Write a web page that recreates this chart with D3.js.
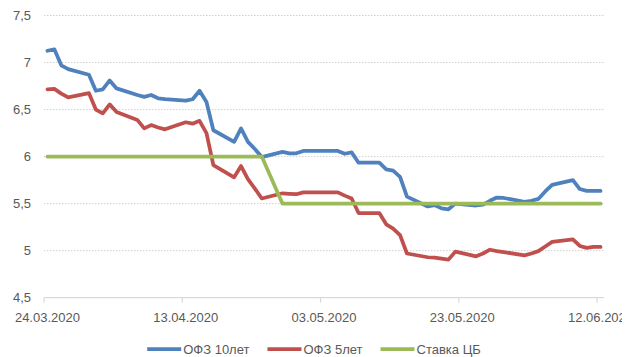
<!DOCTYPE html>
<html>
<head>
<meta charset="utf-8">
<script src="https://cdn.jsdelivr.net/npm/d3@7"></script>
<style>
  html, body { margin: 0; padding: 0; background: #fff; }
  svg { display: block; }
  text { font-family: "Liberation Sans", Arial, sans-serif; fill: #595959; }
</style>
</head>
<body>
<svg id="chart" width="633" height="357"></svg>
<script>
// ---- data ----
const dates = [
  "24.03.2020","25.03.2020","26.03.2020","27.03.2020","30.03.2020","31.03.2020",
  "01.04.2020","02.04.2020","03.04.2020","06.04.2020","07.04.2020","08.04.2020","09.04.2020","10.04.2020",
  "13.04.2020","14.04.2020","15.04.2020","16.04.2020","17.04.2020","20.04.2020","21.04.2020","22.04.2020",
  "23.04.2020","24.04.2020","27.04.2020","28.04.2020","29.04.2020","30.04.2020",
  "04.05.2020","05.05.2020","06.05.2020","07.05.2020","08.05.2020","11.05.2020","12.05.2020","13.05.2020",
  "14.05.2020","15.05.2020","18.05.2020","19.05.2020","20.05.2020","21.05.2020","22.05.2020","25.05.2020",
  "26.05.2020","27.05.2020","28.05.2020","29.05.2020",
  "01.06.2020","02.06.2020","03.06.2020","04.06.2020","05.06.2020","08.06.2020","09.06.2020","10.06.2020",
  "11.06.2020","12.06.2020"
];
const ofz10 = [
  7.125, 7.14, 6.97, 6.93, 6.87, 6.70,
  6.715, 6.81, 6.725, 6.655, 6.635, 6.655, 6.62, 6.61,
  6.595, 6.61, 6.70, 6.58, 6.28, 6.157, 6.30, 6.157,
  6.08, 5.995, 6.05, 6.035, 6.035, 6.06,
  6.06, 6.06, 6.03, 6.045, 5.935, 5.935, 5.864, 5.85,
  5.785, 5.575, 5.47, 5.485, 5.45, 5.44, 5.50, 5.48,
  5.49, 5.53, 5.565, 5.56,
  5.52, 5.53, 5.55, 5.63, 5.70, 5.75, 5.655, 5.635,
  5.635, 5.635
];
const ofz5 = [
  6.715, 6.72, 6.67, 6.63, 6.675, 6.50,
  6.46, 6.555, 6.475, 6.39, 6.30, 6.335, 6.31, 6.29,
  6.365, 6.35, 6.38, 6.25, 5.91, 5.78, 5.90, 5.76,
  5.66, 5.555, 5.61, 5.605, 5.60, 5.62,
  5.62, 5.62, 5.585, 5.555, 5.40, 5.40, 5.28, 5.235,
  5.165, 4.97, 4.93, 4.925, 4.915, 4.905, 4.99, 4.94,
  4.97, 5.01, 4.995, 4.985,
  4.95, 4.97, 4.995, 5.045, 5.094, 5.12, 5.05, 5.03,
  5.04, 5.04
];
const cbRate = [
  6, 6, 6, 6, 6, 6,
  6, 6, 6, 6, 6, 6, 6, 6,
  6, 6, 6, 6, 6, 6, 6, 6,
  6, 6, 5.5, 5.5, 5.5, 5.5,
  5.5, 5.5, 5.5, 5.5, 5.5, 5.5, 5.5, 5.5,
  5.5, 5.5, 5.5, 5.5, 5.5, 5.5, 5.5, 5.5,
  5.5, 5.5, 5.5, 5.5,
  5.5, 5.5, 5.5, 5.5, 5.5, 5.5, 5.5, 5.5,
  5.5, 5.5
];
const seriesNames = ["ОФЗ 10лет", "ОФЗ 5лет", "Ставка ЦБ"];
const seriesColors = ["#4F81BD", "#C0504D", "#9BBB59"];
const xTickLabels = ["24.03.2020", "13.04.2020", "03.05.2020", "23.05.2020", "12.06.2020"];
const yTicks = [4.5, 5, 5.5, 6, 6.5, 7, 7.5];

// ---- helpers ----
const parse = d3.utcParse("%d.%m.%Y");
const fmtY = v => String(v).replace(".", ",");
const HALF_DAY = 12 * 3600 * 1000;

const svg = d3.select("#chart");
const first = parse(dates[0]), last = parse(dates[dates.length - 1]);

// the original chart object is cut off at the right edge
svg.append("defs").append("clipPath").attr("id", "chartClip")
  .append("rect").attr("x", 0).attr("y", 0).attr("width", 622).attr("height", 357);
const root = svg.append("g").attr("clip-path", "url(#chartClip)");

const x = d3.scaleUtc()
  .domain([new Date(+first - HALF_DAY), new Date(+last + HALF_DAY)])
  .range([44, 604]);
const y = d3.scaleLinear().domain([4.5, 7.5]).range([297.7, 15.5]);

// gridlines
root.append("g").selectAll("line")
  .data(yTicks.filter(v => v > 4.5))
  .join("line")
  .attr("x1", 44).attr("x2", 604)
  .attr("y1", d => y(d)).attr("y2", d => y(d))
  .attr("stroke", "#D0D0D0")
  .attr("stroke-width", 1)
  .attr("stroke-dasharray", "1.5,1.5");

// y labels
root.append("g").selectAll("text")
  .data(yTicks)
  .join("text")
  .attr("x", 31)
  .attr("y", d => y(d) + 4.6)
  .attr("text-anchor", "end")
  .attr("font-size", 13)
  .text(fmtY);

// x axis line
root.append("line")
  .attr("x1", 44).attr("x2", 604)
  .attr("y1", y(4.5)).attr("y2", y(4.5))
  .attr("stroke", "#D9D9D9").attr("stroke-width", 1.2);

// x ticks (slot boundaries) and labels (slot centres)
const tickDates = xTickLabels.map(parse);
root.append("g").selectAll("line")
  .data(tickDates)
  .join("line")
  .attr("x1", d => x(new Date(+d - HALF_DAY)))
  .attr("x2", d => x(new Date(+d - HALF_DAY)))
  .attr("y1", y(4.5)).attr("y2", y(4.5) + 5)
  .attr("stroke", "#D9D9D9").attr("stroke-width", 1.2);

root.append("g").selectAll("text")
  .data(xTickLabels)
  .join("text")
  .attr("x", d => x(parse(d)))
  .attr("y", 321.5)
  .attr("text-anchor", "middle")
  .attr("font-size", 13)
  .text(d => d);

// lines
const allSeries = [ofz10, ofz5, cbRate];
const line = d3.line()
  .x((d, i) => x(parse(dates[i])))
  .y(d => y(d))
  .curve(d3.curveLinear);

root.append("g").selectAll("path")
  .data(allSeries)
  .join("path")
  .attr("d", d => line(d))
  .attr("fill", "none")
  .attr("stroke", (d, i) => seriesColors[i])
  .attr("stroke-width", 3.75)
  .attr("stroke-linejoin", "round")
  .attr("stroke-linecap", "round");

// legend
const legend = root.append("g");
const items = legend.selectAll("g")
  .data(seriesNames)
  .join("g");
items.append("line")
  .attr("x1", 0).attr("x2", 34)
  .attr("y1", 349).attr("y2", 349)
  .attr("stroke", (d, i) => seriesColors[i])
  .attr("stroke-width", 3.75);
items.append("text")
  .attr("x", 36)
  .attr("y", 353.6)
  .attr("font-size", 13)
  .text(d => d);
let widths = [];
items.each(function () {
  widths.push(36 + this.querySelector("text").getComputedTextLength());
});
const gap = 18;
const total = d3.sum(widths) + gap * (widths.length - 1);
let cx = 314 - total / 2;
items.attr("transform", (d, i) => {
  const tx = cx;
  cx += widths[i] + gap;
  return `translate(${tx},0)`;
});
</script>
</body>
</html>
